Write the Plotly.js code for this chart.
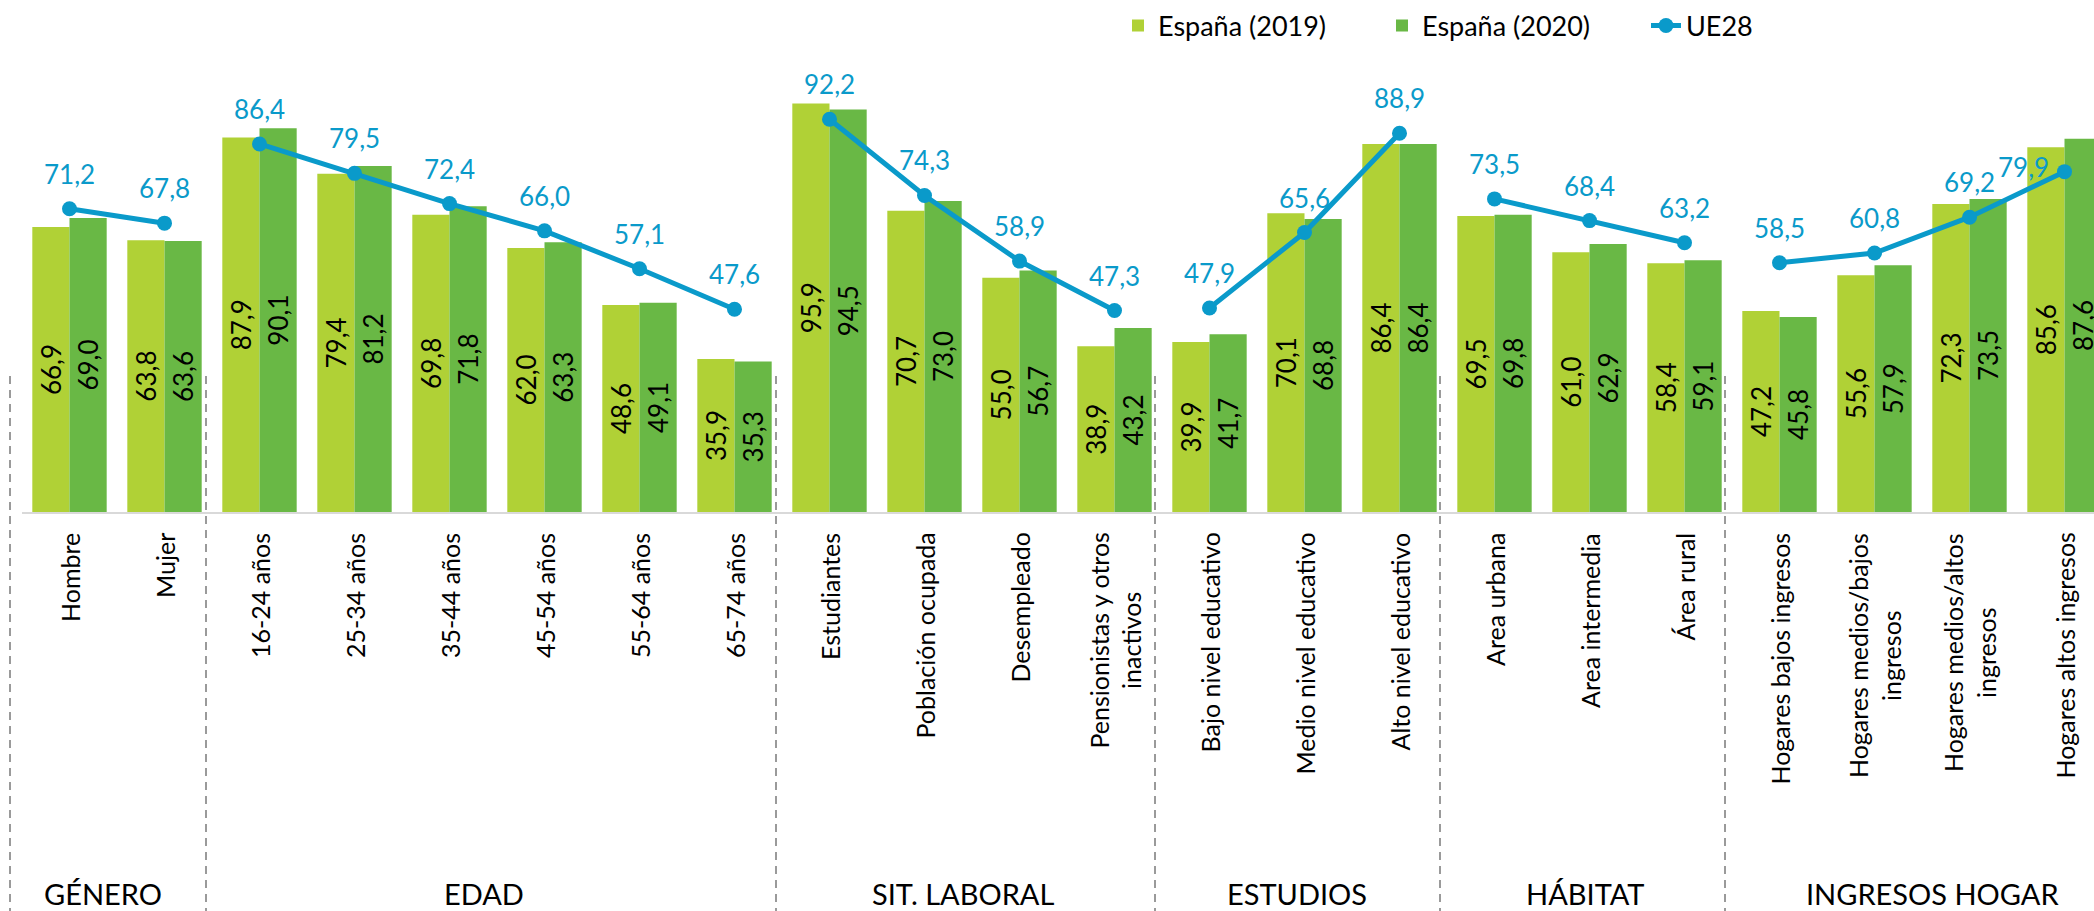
<!DOCTYPE html>
<html>
<head>
<meta charset="utf-8">
<script src="https://cdn.plot.ly/plotly-3.0.1.min.js"></script>
<style>
  html, body { margin: 0; padding: 0; background: #ffffff; }
  #chart { width: 2094px; height: 911px; }
</style>
</head>
<body>
<div id="chart"></div>
<script>
// ---------- DATA ----------
const categorias = ['Hombre', 'Mujer', '16-24 años', '25-34 años', '35-44 años', '45-54 años', '55-64 años', '65-74 años',
  'Estudiantes', 'Población ocupada', 'Desempleado', 'Pensionistas y otros inactivos',
  'Bajo nivel educativo', 'Medio nivel educativo', 'Alto nivel educativo',
  'Area urbana', 'Area intermedia', 'Área rural',
  'Hogares bajos ingresos', 'Hogares medios/bajos ingresos', 'Hogares medios/altos ingresos', 'Hogares altos ingresos'];

const etiquetasEje = ['Hombre', 'Mujer', '16-24 años', '25-34 años', '35-44 años', '45-54 años', '55-64 años', '65-74 años',
  'Estudiantes', 'Población ocupada', 'Desempleado', 'Pensionistas y otros<br>inactivos',
  'Bajo nivel educativo', 'Medio nivel educativo', 'Alto nivel educativo',
  'Area urbana', 'Area intermedia', 'Área rural',
  'Hogares bajos ingresos', 'Hogares medios/bajos<br>ingresos', 'Hogares medios/altos<br>ingresos', 'Hogares altos ingresos'];

const grupos = ['GÉNERO', 'EDAD', 'SIT. LABORAL', 'ESTUDIOS', 'HÁBITAT', 'INGRESOS HOGAR'];
const tamanoGrupo = [2, 6, 4, 3, 3, 4];

const espana2019 = [66.9, 63.8, 87.9, 79.4, 69.8, 62.0, 48.6, 35.9, 95.9, 70.7, 55.0, 38.9, 39.9, 70.1, 86.4, 69.5, 61.0, 58.4, 47.2, 55.6, 72.3, 85.6];
const espana2020 = [69.0, 63.6, 90.1, 81.2, 71.8, 63.3, 49.1, 35.3, 94.5, 73.0, 56.7, 43.2, 41.7, 68.8, 86.4, 69.8, 62.9, 59.1, 45.8, 57.9, 73.5, 87.6];
const ue28 = [71.2, 67.8, 86.4, 79.5, 72.4, 66.0, 57.1, 47.6, 92.2, 74.3, 58.9, 47.3, 47.9, 65.6, 88.9, 73.5, 68.4, 63.2, 58.5, 60.8, 69.2, 79.9];

const nombres = ['España (2019)', 'España (2020)', 'UE28'];

// ---------- STYLE ----------
const FONT = 'Lato, "Open Sans", sans-serif';
const C2019 = '#B0D136';
const C2020 = '#69B845';
const CUE = '#0A9ACA';
const fmt = v => v.toFixed(1).replace('.', ',');

// plot geometry (pixels)
const W = 2094, H = 911, ML = 22, MT = 40, MB = 399;
const plotW = W - ML, plotH = H - MT - MB;
const PITCH = 95;
const pxToPaperX = px => (px - ML) / plotW;
const pxToPaperY = py => (H - MB - py) / plotH;

// ---------- TRACES ----------
const traces = [];
traces.push({
  type: 'bar', name: nombres[0], x: categorias, y: espana2019,
  marker: { color: C2019 },
  text: espana2019.map(fmt), textposition: 'inside', insidetextanchor: 'middle', textangle: -90,
  textfont: { family: FONT, size: 26, color: '#000000' },
  hoverinfo: 'x+y'
});
traces.push({
  type: 'bar', name: nombres[1], x: categorias, y: espana2020,
  marker: { color: C2020 },
  text: espana2020.map(fmt), textposition: 'inside', insidetextanchor: 'middle', textangle: -90,
  textfont: { family: FONT, size: 26, color: '#000000' },
  hoverinfo: 'x+y'
});

// UE28 line, broken between groups
let start = 0;
tamanoGrupo.forEach((n, g) => {
  const xs = categorias.slice(start, start + n);
  const ys = ue28.slice(start, start + n);
  traces.push({
    type: 'scatter', mode: 'lines+markers', name: nombres[2],
    x: xs, y: ys, legendgroup: 'ue', showlegend: g === 0,
    line: { color: CUE, width: 5 },
    marker: { color: CUE, size: 15 },
    hoverinfo: 'x+y'
  });
  start += n;
});

// ---------- ANNOTATIONS ----------
const annotations = [];
// UE28 value labels
ue28.forEach((v, i) => {
  const last = i === ue28.length - 1;
  annotations.push({
    x: categorias[i], y: v, xref: 'x', yref: 'y', text: fmt(v), showarrow: false,
    xanchor: last ? 'right' : 'center', yanchor: 'middle',
    xshift: last ? -14 : 0, yshift: last ? 5 : 35,
    font: { family: FONT, size: 26, color: CUE }
  });
});
// category labels (rotated, centred lines)
etiquetasEje.forEach((t, i) => {
  annotations.push({
    x: categorias[i], y: pxToPaperY(531), xref: 'x', yref: 'paper', text: t, showarrow: false,
    textangle: -90, align: 'center', xanchor: 'center', yanchor: 'top',
    font: { family: FONT, size: 25, color: '#000000' }
  });
});
// group labels
const grupoCentroPx = [103, 484, 963, 1297, 1585, 1932];
grupos.forEach((g, k) => {
  annotations.push({
    x: pxToPaperX(grupoCentroPx[k]), y: pxToPaperY(893), xref: 'paper', yref: 'paper', text: g, showarrow: false,
    xanchor: 'center', yanchor: 'middle',
    font: { family: FONT, size: 29, color: '#000000' }
  });
});

// ---------- SHAPES (dashed separators) ----------
const separadoresPx = [10, 206, 776, 1155, 1440, 1725];
const shapes = separadoresPx.map(px => ({
  type: 'line', xref: 'paper', yref: 'paper',
  x0: pxToPaperX(px), x1: pxToPaperX(px),
  y0: pxToPaperY(376), y1: pxToPaperY(915),
  line: { color: '#9A9A9A', width: 2, dash: '8px,6px' }
}));

const layout = {
  width: W, height: H,
  margin: { l: ML, r: 0, t: MT, b: MB, pad: 0 },
  paper_bgcolor: '#ffffff', plot_bgcolor: '#ffffff',
  barmode: 'group', bargap: 0.217, bargroupgap: 0,
  uniformtext: { mode: 'show', minsize: 26 },
  showlegend: true,
  legend: {
    orientation: 'h', x: pxToPaperX(1118), xanchor: 'left', y: pxToPaperY(26), yanchor: 'middle',
    font: { family: FONT, size: 27, color: '#000000' },
    entrywidth: 219, entrywidthmode: 'pixels',
    bgcolor: 'rgba(0,0,0,0)', traceorder: 'normal'
  },
  xaxis: {
    type: 'category', range: [-0.5, -0.5 + plotW / PITCH],
    showticklabels: false, ticks: '', showgrid: false, zeroline: false,
    showline: true, linecolor: '#D9D9D9', linewidth: 2, fixedrange: true
  },
  yaxis: {
    range: [0, plotH / 4.26], visible: false, showgrid: false, zeroline: false, fixedrange: true
  },
  annotations: annotations,
  shapes: shapes,
  font: { family: FONT }
};

Plotly.newPlot('chart', traces, layout, { displayModeBar: false, staticPlot: true });
</script>
</body>
</html>
